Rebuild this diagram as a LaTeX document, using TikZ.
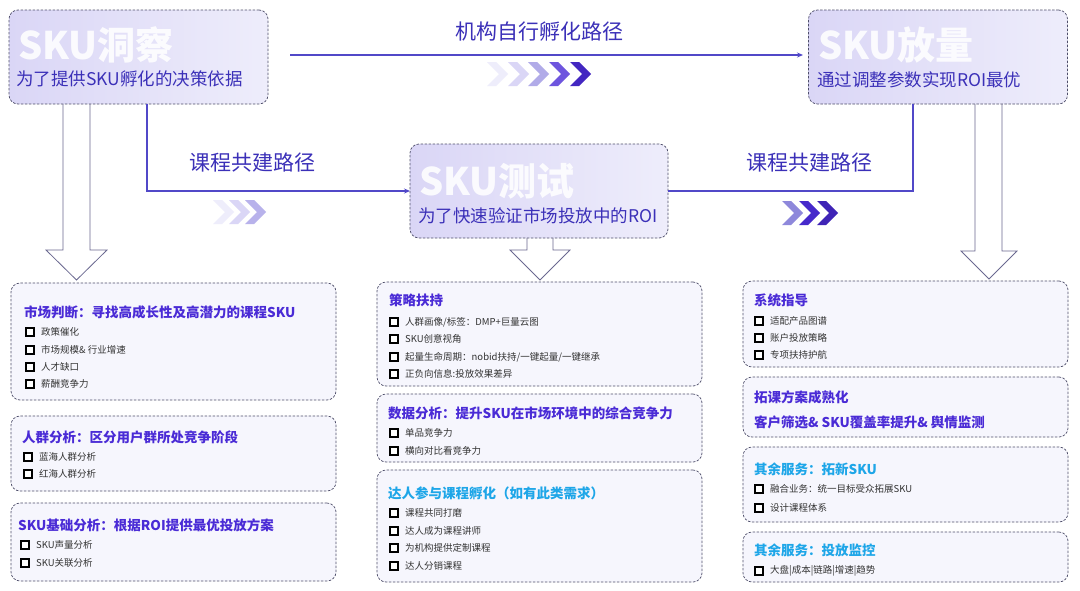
\documentclass[tikz,border=0pt]{standalone}
\usepackage{fontspec}
\setmainfont{Noto Sans CJK SC}
\usetikzlibrary{arrows.meta}
\definecolor{boxline}{HTML}{4E4E6A}
\definecolor{lavA}{HTML}{DAD6F6}
\definecolor{lavB}{HTML}{EEEDFB}
\definecolor{lowfill}{HTML}{F6F6FD}
\definecolor{subblue}{HTML}{3B30B8}
\definecolor{ttlpurple}{HTML}{4A2BD6}
\definecolor{ttlcyan}{HTML}{1EA6E8}
\definecolor{routec}{HTML}{5148C8}
\definecolor{hollowc}{HTML}{6A6890}
\definecolor{itemgray}{HTML}{333333}
\newcommand\chev[4]{\fill[#4] (#1,{#2-#3/2}) -- ({#1+0.38*#3},{#2-#3/2}) -- ({#1+0.88*#3},#2) -- ({#1+0.38*#3},{#2+#3/2}) -- (#1,{#2+#3/2}) -- ({#1+0.5*#3},#2) -- cycle;}
\newcommand\hollowarrow[7]{\draw[hollow] (#1,#3) -- (#1,#6) -- (#4,#6) -- ({(#4+#5)/2},#7) -- (#5,#6) -- (#2,#6) -- (#2,#3);}
\newcommand\bitem[4]{\node[bul] (#1b) at (#2,#3) {}; \node[itemtext] (#1) at (#2+11,#3) {#4};}
\begin{document}
\begin{tikzpicture}[x=1pt,y=-1pt,
  topbox/.style={draw=boxline, dash pattern=on 2.5pt off 1.5pt, line width=0.7pt, rounded corners=9pt, left color=lavA, right color=lavB, minimum width=259pt, minimum height=94pt, inner sep=0pt, outer sep=0pt},
  lowbox/.style={draw=boxline, dash pattern=on 2.5pt off 1.5pt, line width=0.7pt, rounded corners=9pt, fill=lowfill, minimum width=325pt, inner sep=0pt, outer sep=0pt},
  bigword/.style={font=\fontsize{38}{40}\selectfont\bfseries, text=white, text opacity=0.88, anchor=west, inner sep=0pt},
  subt/.style={font=\fontsize{17.5}{20}\selectfont, text=subblue, anchor=west, inner sep=0pt},
  ttl/.style={font=\fontsize{13.5}{15}\selectfont\bfseries, text=ttlpurple, anchor=west, inner sep=0pt},
  ttlc/.style={ttl, text=ttlcyan},
  itemtext/.style={font=\fontsize{9.5}{11}\selectfont, text=itemgray, anchor=west, inner sep=0pt},
  bul/.style={draw=black, line width=2pt, minimum size=7.5pt, inner sep=0pt, fill=white},
  route/.style={draw=routec, line width=1.6pt},
  pathlbl/.style={font=\fontsize{21}{24}\selectfont, text=subblue, inner sep=0pt},
  hollow/.style={draw=hollowc, line width=0.8pt, fill=white}
]
\useasboundingbox[fill=white] (0,0) rectangle (1080,590);

% hollow down arrows
\hollowarrow{63}{90}{104}{46}{107}{250}{280}
\hollowarrow{527}{553}{238}{510}{570}{250}{280}
\hollowarrow{975}{1002}{104}{961}{1017}{251}{279}

% top boxes
\node[topbox] (insight) at (138.5,57) {};
\node[topbox] (launch) at (938,57) {};
\node[topbox, minimum width=258pt] (test) at (539,191) {};

\node[bigword] (insightbig) at (18,45) {SKU洞察};
\node[bigword] (launchbig) at (818,45) {SKU放量};
\node[bigword] (testbig) at (419,181) {SKU测试};
\node[subt] (insightsub) at (16,79) {为了提供SKU孵化的决策依据};
\node[subt] (launchsub) at (817,80) {通过调整参数实现ROI最优};
\node[subt] (testsub) at (418,216) {为了快速验证市场投放中的ROI};

% routes
\coordinate (t1) at (290,55);
\coordinate (t2) at (803,55);
\draw[route, -{Stealth[length=6pt,width=5pt]}] (t1) -- (t2);
\node[pathlbl] (lbltop) at (539,32) {机构自行孵化路径};

\coordinate (r1) at (147,191);
\draw[route, -{Stealth[length=6pt,width=5pt]}] (insight.south -| r1) |- (test.west);
\node[pathlbl] (lblleft) at (252,163) {课程共建路径};

\coordinate (r2) at (913,191);
\draw[route] (test.east) -| (launch.south -| r2);
\node[pathlbl] (lblright) at (809,163) {课程共建路径};

% chevrons
\chev{487}{74}{24}{lavB}
\chev{508}{74}{24}{lavA}
\chev{528}{74}{24}{lavA!70!routec}
\chev{549}{74}{24}{ttlpurple!80}
\chev{570}{74}{24}{ttlpurple!90!black}
\chev{213}{212}{24}{lavB}
\chev{229}{212}{24}{lavA}
\chev{245}{212}{24}{lavA!75!routec}
\chev{782}{213}{24}{routec!65}
\chev{799}{213}{24}{ttlpurple!95!black}
\chev{817}{213}{24}{ttlpurple!85!black}

% left column
\node[lowbox, minimum height=117pt] (L1) at (173.5,341.5) {};
\node[ttl] (L1t) at (24,312) {市场判断：寻找高成长性及高潜力的课程SKU};
\bitem{L1a}{30}{332}{政策催化}
\bitem{L1b}{30}{350}{市场规模\&\ 行业增速}
\bitem{L1c}{30}{367}{人才缺口}
\bitem{L1d}{30}{384}{薪酬竞争力}

\node[lowbox, minimum height=75pt] (L2) at (173.5,453.5) {};
\node[ttl] (L2t) at (22,437) {人群分析：区分用户群所处竞争阶段};
\bitem{L2a}{28}{457}{蓝海人群分析}
\bitem{L2b}{28}{474}{红海人群分析}

\node[lowbox, minimum height=78pt] (L3) at (173.5,542) {};
\node[ttl] (L3t) at (18,525) {SKU基础分析：根据ROI提供最优投放方案};
\bitem{L3a}{25}{545}{SKU声量分析}
\bitem{L3b}{25}{563}{SKU关联分析}

% middle column
\node[lowbox, minimum height=104pt] (M1) at (539.5,334) {};
\node[ttl] (M1t) at (389,300) {策略扶持};
\bitem{M1a}{394}{322}{人群画像/标签：DMP+巨量云图}
\bitem{M1b}{394}{339}{SKU创意视角}
\bitem{M1c}{394}{357}{起量生命周期：nobid扶持/一键起量/一键继承}
\bitem{M1d}{394}{374}{正负向信息:投放效果差异}

\node[lowbox, minimum height=68pt] (M2) at (539.5,428) {};
\node[ttl] (M2t) at (388,413) {数据分析：提升SKU在市场环境中的综合竞争力};
\bitem{M2a}{394}{433}{单品竞争力}
\bitem{M2b}{394}{451}{横向对比看竞争力}

\node[lowbox, minimum height=112pt] (M3) at (539.5,526) {};
\node[ttlc] (M3t) at (388,493) {达人参与课程孵化（如有此类需求）};
\bitem{M3a}{394}{513}{课程共同打磨}
\bitem{M3b}{394}{531}{达人成为课程讲师}
\bitem{M3c}{394}{548}{为机构提供定制课程}
\bitem{M3d}{394}{566}{达人分销课程}

% right column
\node[lowbox, minimum height=86pt] (R1) at (905.5,324) {};
\node[ttl] (R1t) at (754,300) {系统指导};
\bitem{R1a}{759}{321}{适配产品图谱}
\bitem{R1b}{759}{338}{账户投放策略}
\bitem{R1c}{759}{355}{专项扶持护航}

\node[lowbox, minimum height=60pt] (R2) at (905.5,407) {};
\node[ttl] (R2t) at (754,397) {拓课方案成熟化};
\node[ttl] (R2s) at (754,422) {客户筛选\&\ SKU覆盖率提升\&\ 舆情监测};

\node[lowbox, minimum height=75pt] (R3) at (905.5,484.5) {};
\node[ttlc] (R3t) at (754,469) {其余服务：拓新SKU};
\bitem{R3a}{759}{489}{融合业务：统一目标受众拓展SKU}
\bitem{R3b}{759}{508}{设计课程体系}

\node[lowbox, minimum height=50pt] (R4) at (905.5,557) {};
\node[ttlc] (R4t) at (754,550) {其余服务：投放监控};
\bitem{R4a}{759}{571}{大盘|成本|链路|增速|趋势}
\end{tikzpicture}
\end{document}
